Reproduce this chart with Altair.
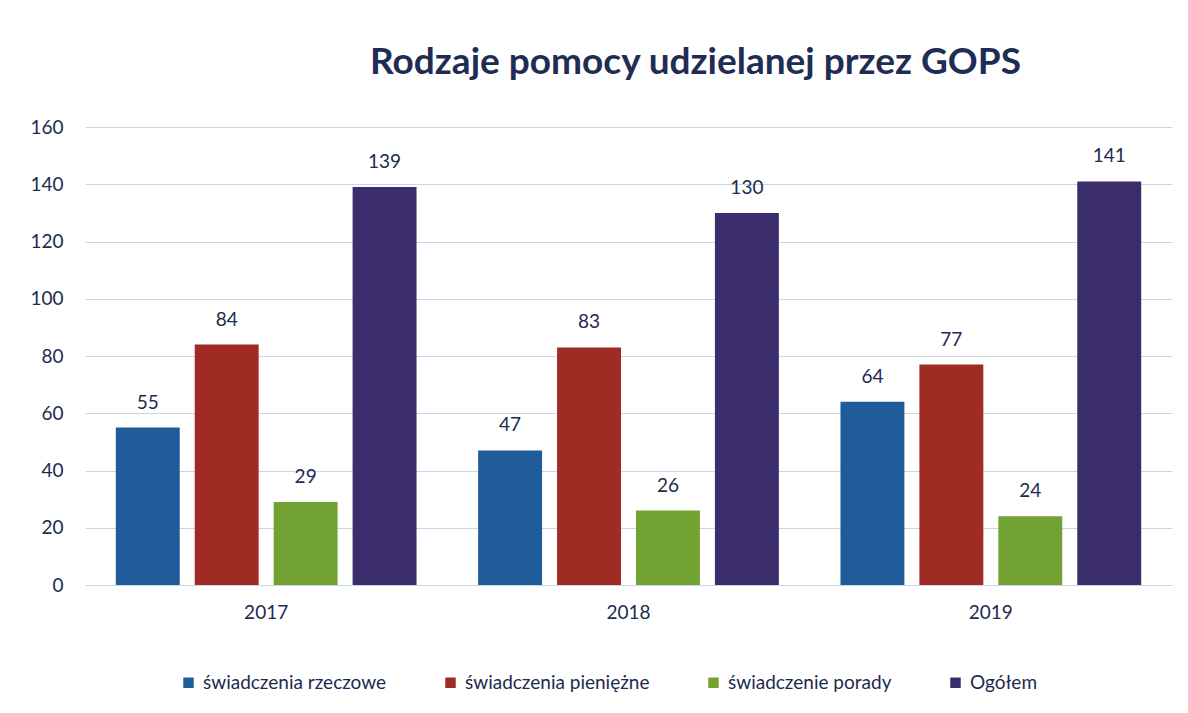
import altair as alt
import pandas as pd

years = ["2017", "2018", "2019"]
series = ["świadczenia rzeczowe", "świadczenia pieniężne", "świadczenie porady", "Ogółem"]
values = {
    "świadczenia rzeczowe": [55, 47, 64],
    "świadczenia pieniężne": [84, 83, 77],
    "świadczenie porady": [29, 26, 24],
    "Ogółem": [139, 130, 141],
}
colors = ["#1f5c99", "#a02b25", "#72a232", "#3b2d6b"]
y_ticks = [0, 20, 40, 60, 80, 100, 120, 140, 160]

rows = []
for s in series:
    for y, v in zip(years, values[s]):
        rows.append({"rok": y, "seria": s, "wartosc": v, "order": series.index(s)})
df = pd.DataFrame(rows)

FONT = "Lato"
TXT = "#1c2b4f"
FS = 19

base = alt.Chart(df).encode(
    x=alt.X("rok:N", title=None, sort=years,
            scale=alt.Scale(paddingInner=0.17, paddingOuter=0.085),
            axis=alt.Axis(labelAngle=0, ticks=False, domain=False, labelPadding=18,
                          labelFontSize=FS, labelColor=TXT, labelFont=FONT)),
    xOffset=alt.XOffset("seria:N", sort=series, scale=alt.Scale(paddingInner=0.19)),
)

bars = base.mark_bar().encode(
    y=alt.Y("wartosc:Q", title=None,
            scale=alt.Scale(domain=[0, 160]),
            axis=alt.Axis(values=y_ticks, ticks=False, domain=False, labelPadding=22,
                          labelFontSize=FS, labelColor=TXT, labelFont=FONT,
                          gridColor="#c9d6e3", gridWidth=1)),
    color=alt.Color("seria:N", sort=series,
                    scale=alt.Scale(domain=series, range=colors),
                    legend=alt.Legend(title=None, orient="none", direction="horizontal",
                                      legendX=94, legendY=546,
                                      symbolType="square", symbolSize=110,
                                      symbolStrokeWidth=0, labelLimit=500,
                                      labelFontSize=FS, labelColor=TXT, labelFont=FONT,
                                      columnPadding=54, labelOffset=5)),
)

labels = base.mark_text(baseline="bottom", dy=-15, fontSize=FS, color=TXT, font=FONT).encode(
    y=alt.Y("wartosc:Q"),
    text=alt.Text("wartosc:Q"),
)

chart = (bars + labels).properties(
    width=1087,
    height=458,
    title=alt.TitleParams("Rodzaje pomocy udzielanej przez GOPS", fontSize=37, font=FONT,
                          fontWeight="bold", color="#1f2d55", offset=36, dx=67),
    autosize=alt.AutoSizeParams(type="none"),
    padding={"left": 77, "top": 119, "right": 8, "bottom": 112},
).configure_view(stroke=None)

chart.save("out.html", embed_options={"renderer": "svg", "actions": False})
